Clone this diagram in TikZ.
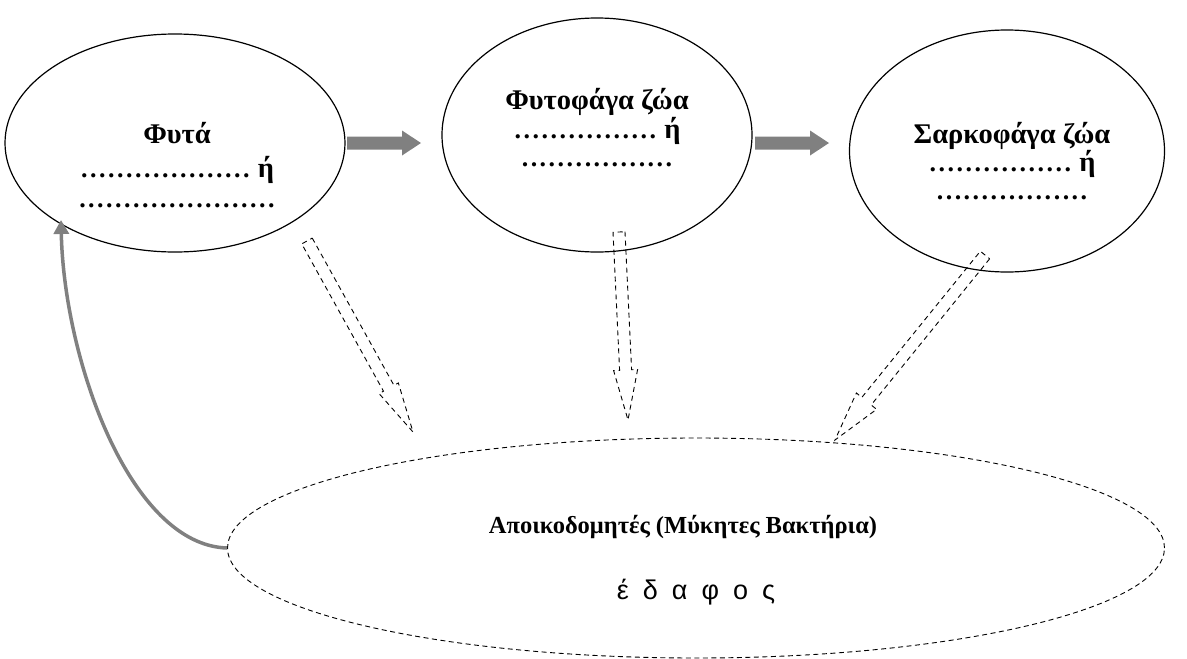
\documentclass[tikz,border=0pt]{standalone}
\usepackage{fontspec}
\setmainfont{Liberation Serif}
\newfontfamily\soilfont{Liberation Sans}
\usetikzlibrary{shapes.geometric,calc,arrows.meta}
\newcommand\dotrow[1]{\foreach \i in {1,...,#1}{\makebox[9pt]{\fontsize{26}{30}\selectfont.}}}
\newcommand\blockarr[6]{%
  \path[#6] ($(#1)!#3!90:(#2)$) -- ($($(#2)!#5!(#1)$)!#3!90:(#2)$)
    -- ($($(#2)!#5!(#1)$)!#4!90:(#2)$) -- (#2)
    -- ($($(#2)!#5!(#1)$)!#4!-90:(#2)$) -- ($($(#2)!#5!(#1)$)!#3!-90:(#2)$)
    -- ($(#1)!#3!-90:(#2)$) -- cycle;}
\begin{document}
\begin{tikzpicture}[x=1pt,y=-1pt,
  org/.style={draw,ellipse,line width=1.2pt,inner sep=0pt},
  lbl/.style={font=\bfseries\fontsize{28.5}{34}\selectfont,align=center},
  grayarr/.style={fill=black!50,draw=none},
  dasharr/.style={draw,dashed,line width=0.9pt,dash pattern=on 5pt off 4pt}]
\useasboundingbox (0,0) rectangle (1187,659);
\node[org,minimum width=340pt,minimum height=218pt] (plants) at (175,143) {};
\node[org,minimum width=310pt,minimum height=234pt] (herb) at (597,135) {};
\node[org,minimum width=315pt,minimum height=242pt] (carn) at (1007,151) {};
\node[draw,ellipse,dashed,line width=0.9pt,dash pattern=on 5pt off 3.5pt,inner sep=0pt,minimum width=937pt,minimum height=220pt] (soil) at (696,548) {};

\node[lbl] (t1) at (177,165) {Φυτά\\[0pt]\dotrow{19} ή\\[-4pt]\dotrow{22}};
\node[lbl] (t2) at (597,128) {Φυτοφάγα ζώα\\[-5pt]\dotrow{16} ή\\[-6pt]\dotrow{17}};
\node[lbl] (t3) at (1012,161) {Σαρκοφάγα ζώα\\[-6pt]\dotrow{16} ή\\[-6pt]\dotrow{17}};
\node[font=\bfseries\fontsize{24.5}{28}\selectfont] (dec) at (683,527) {Αποικοδομητές (Μύκητες Βακτήρια)};
\node[font=\soilfont\fontsize{27}{30}\selectfont] (ed) at (696,592) {έ\hspace{14pt}δ\hspace{14pt}α\hspace{14pt}φ\hspace{14pt}ο\hspace{14pt}ς};

\coordinate (g1s) at (347,143); \coordinate (g1t) at (421,143);
\coordinate (g2s) at (755,143); \coordinate (g2t) at (829,143);
\blockarr{g1s}{g1t}{6.5pt}{12.5pt}{19pt}{grayarr}
\blockarr{g2s}{g2t}{6.5pt}{12.5pt}{19pt}{grayarr}

\coordinate (d1s) at (307,241); \coordinate (d1t) at (413,432);
\coordinate (d2s) at (619,232); \coordinate (d2t) at (628,420);
\coordinate (d3s) at (985,255); \coordinate (d3t) at (835,440);
\blockarr{d1s}{d1t}{6pt}{11pt}{50pt}{dasharr}
\blockarr{d2s}{d2t}{6pt}{12pt}{50pt}{dasharr}
\blockarr{d3s}{d3t}{6pt}{13pt}{50pt}{dasharr}

\coordinate (ret) at (61,220);
\draw[black!50,line width=3.5pt,-{Triangle[length=14pt,width=15pt]}] (soil.west) .. controls (130,545) and (64,360) .. (ret);
\end{tikzpicture}
\end{document}
